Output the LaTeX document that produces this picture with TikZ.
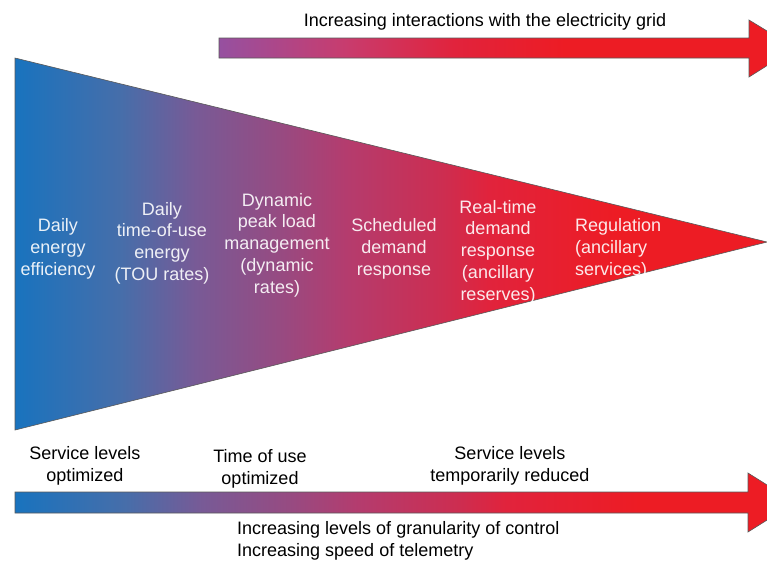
\documentclass[tikz,border=0pt]{standalone}
\usepackage{fontspec}
\setmainfont{Liberation Sans}

\definecolor{gblue}{RGB}{25,115,190}
\definecolor{gsteel}{RGB}{70,110,170}
\definecolor{gviolet}{RGB}{120,90,150}
\definecolor{gmauve}{RGB}{150,75,130}
\definecolor{gplum}{RGB}{180,60,110}
\definecolor{gcrimson}{RGB}{205,45,80}
\definecolor{gscarlet}{RGB}{225,35,60}
\definecolor{gred}{RGB}{237,28,36}
\definecolor{gpurple}{RGB}{150,80,160}
\definecolor{gpink}{RGB}{200,60,110}

\pgfdeclarehorizontalshading{funnel}{100bp}{color(0bp)=(gblue); color(25bp)=(gblue); color(32bp)=(gsteel); color(37bp)=(gviolet); color(42.5bp)=(gmauve); color(47bp)=(gplum); color(53.5bp)=(gcrimson); color(56.5bp)=(gscarlet); color(65bp)=(gred); color(100bp)=(gred)}
\pgfdeclarehorizontalshading{gridarrow}{100bp}{color(0bp)=(gpurple); color(25bp)=(gpurple); color(36bp)=(gpink); color(45.5bp)=(gscarlet); color(55bp)=(gred); color(100bp)=(gred)}

\begin{document}
\begin{tikzpicture}[x=1pt,y=-1pt,
  lbl/.style={font=\fontsize{18}{21.7}\selectfont,align=center,inner sep=0pt},
  inlbl/.style={lbl,text=white,text opacity=0.9},
  outline/.style={draw=black!65,line width=0.6pt}]

\useasboundingbox (0,0) rectangle (767,560);
\clip (0,0) rectangle (767,560);

\shade[outline,shading=funnel] (15,58) -- (767,242) -- (15,430) -- cycle;
\shade[outline,shading=gridarrow] (219,38) -- (749,38) -- (749,20) -- (795,48) -- (749,77) -- (749,58) -- (219,58) -- cycle;
\shade[outline,shading=funnel] (15,492) -- (748,492) -- (748,473) -- (795,502.5) -- (748,532) -- (748,513) -- (15,513) -- cycle;

\node[lbl] (grid) at (485,21.5) {Increasing interactions with the electricity grid};

\node[inlbl] (eff) at (58,249) {Daily\\energy\\efficiency};
\node[inlbl] (tou) at (162,243) {Daily\\time-of-use\\energy\\(TOU rates)};
\node[inlbl] (peak) at (277,245) {Dynamic\\peak load\\management\\(dynamic\\rates)};
\node[inlbl] (sched) at (394,249) {Scheduled\\demand\\response};
\node[inlbl] (rt) at (498,252) {Real-time\\demand\\response\\(ancillary\\reserves)};
\node[inlbl,align=left,anchor=west] (reg) at (575,249) {Regulation\\(ancillary\\services)};

\node[lbl] (svc) at (85,466) {Service levels\\optimized};
\node[lbl] (use) at (260,469) {Time of use\\optimized};
\node[lbl] (reduced) at (510,466) {Service levels\\temporarily reduced};
\node[lbl,align=left,anchor=west] (gran) at (237,541) {Increasing levels of granularity of control\\Increasing speed of telemetry};

\end{tikzpicture}
\end{document}
